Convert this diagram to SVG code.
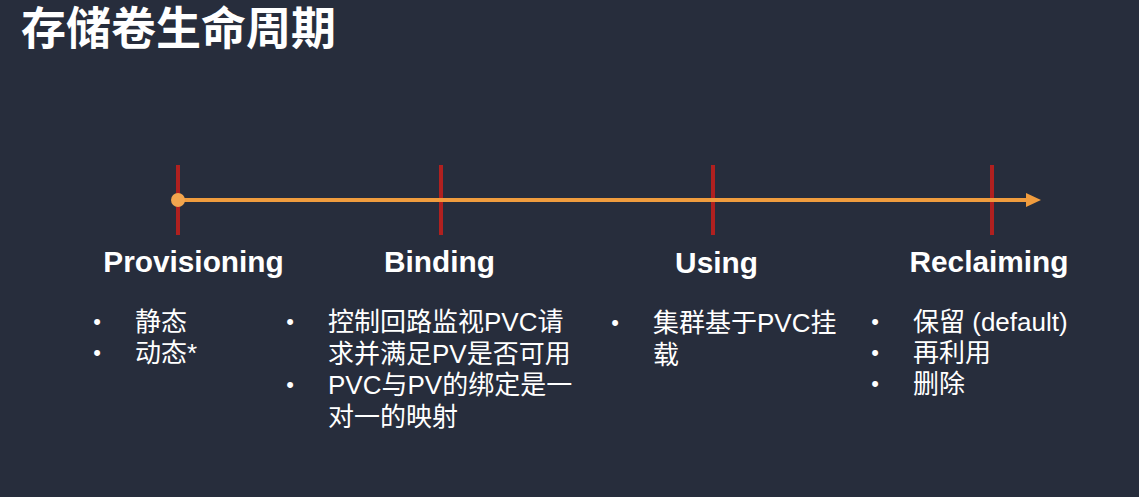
<svg xmlns="http://www.w3.org/2000/svg" width="1139" height="497" viewBox="0 0 1139 497">
  <defs>
    <style>
      .bg { fill: #272d3c; }
      .title { font-family: "Liberation Sans", "Noto Sans CJK SC", sans-serif; font-size: 45px; font-weight: bold; fill: #ffffff; }
      .stage { font-family: "Liberation Sans", "Noto Sans CJK SC", sans-serif; font-size: 29.8px; font-weight: bold; fill: #ffffff; text-anchor: middle; }
      .item { font-family: "Liberation Sans", "Noto Sans CJK SC", sans-serif; font-size: 26px; fill: #ffffff; }
      .dot { font-family: "Liberation Sans", sans-serif; font-size: 22px; fill: #ffffff; text-anchor: middle; }
      .tick { stroke: #b0201f; stroke-width: 4; }
      .axis { stroke: #f09c3e; stroke-width: 4; fill: none; }
    </style>
    <marker id="arrow" markerUnits="userSpaceOnUse" markerWidth="16" markerHeight="16" refX="1" refY="7" orient="auto" viewBox="0 0 16 14">
      <polygon points="0,0 15,7 0,14" fill="#f09c3e"/>
    </marker>
  </defs>

  <rect class="bg" x="0" y="0" width="1139" height="497"/>
  <text class="title" x="21" y="45">存储卷生命周期</text>

  <!-- stage ticks sit beneath the axis line -->
  <g id="provisioning">
    <line class="tick" x1="178" y1="165" x2="178" y2="235"/>
    <text class="stage" x="193.5" y="272">Provisioning</text>
    <text class="dot" x="97" y="329">•</text>
    <text class="item" x="135" y="331">静态</text>
    <text class="dot" x="97" y="360">•</text>
    <text class="item" x="135" y="362">动态*</text>
  </g>

  <g id="binding">
    <line class="tick" x1="441" y1="165" x2="441" y2="235"/>
    <text class="stage" x="439.5" y="272">Binding</text>
    <text class="dot" x="290" y="329">•</text>
    <text class="item" x="328" y="331">控制回路监视PVC请</text>
    <text class="item" x="328" y="363">求并满足PV是否可用</text>
    <text class="dot" x="290" y="392">•</text>
    <text class="item" x="328" y="394">PVC与PV的绑定是一</text>
    <text class="item" x="328" y="426">对一的映射</text>
  </g>

  <g id="using">
    <line class="tick" x1="713" y1="165" x2="713" y2="235"/>
    <text class="stage" x="716.5" y="273">Using</text>
    <text class="dot" x="615" y="330">•</text>
    <text class="item" x="653" y="332">集群基于PVC挂</text>
    <text class="item" x="653" y="364">载</text>
  </g>

  <g id="reclaiming">
    <line class="tick" x1="992" y1="165" x2="992" y2="235"/>
    <text class="stage" x="989" y="272">Reclaiming</text>
    <text class="dot" x="875" y="329">•</text>
    <text class="item" x="913" y="331">保留 (default)</text>
    <text class="dot" x="875" y="360">•</text>
    <text class="item" x="913" y="362">再利用</text>
    <text class="dot" x="875" y="391">•</text>
    <text class="item" x="913" y="393">删除</text>
  </g>

  <g id="connectors">
    <line class="axis" x1="178" y1="200" x2="1027" y2="200" marker-end="url(#arrow)"/>
    <circle cx="178" cy="200" r="7" fill="#f2a54e"/>
  </g>
</svg>
